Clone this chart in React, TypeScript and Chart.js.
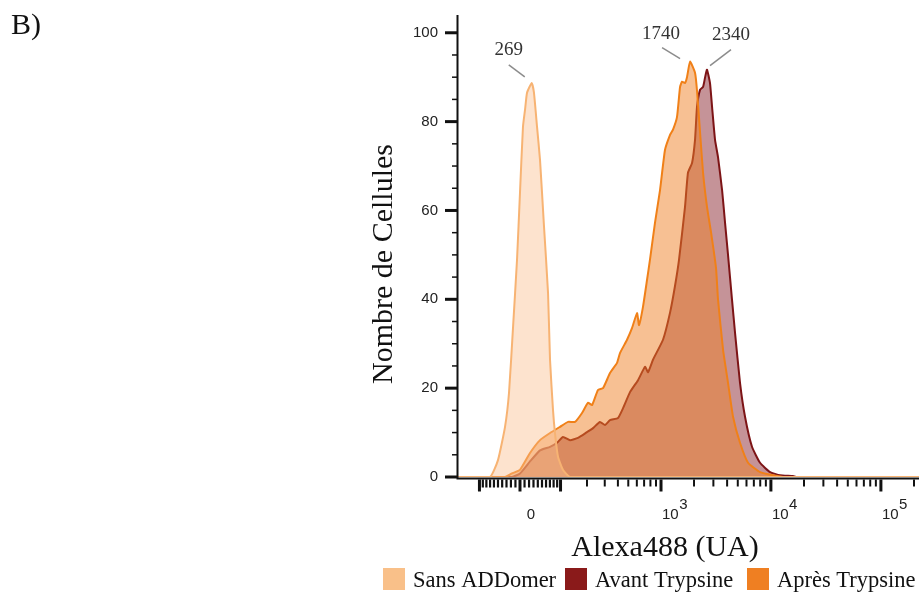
import { useEffect, useRef } from 'react';
import { Chart, registerables } from 'chart.js';

Chart.register(...registerables);

// ---- Data (x in biexponential display units: 10^3 -> 3, 10^4 -> 4, 10^5 -> 5) ----
const seriesNames = ['Sans ADDomer', 'Avant Trypsine', 'Après Trypsine'];

const sansX = [1.155, 1.445, 1.518, 1.582, 1.618, 1.655, 1.691, 1.718, 1.745, 1.764, 1.782, 1.825, 1.845, 1.873, 1.9, 1.936, 1.973, 1.991, 2.018, 2.036, 2.064, 2.109, 2.173, 5.345];
const sansY = [0, 0, 3.8, 11.3, 18.9, 33.8, 48.9, 64, 78.8, 82.7, 86.5, 88.7, 86.5, 78.8, 71.4, 56.5, 41.4, 26.4, 15.1, 9.9, 4.5, 1.6, 0, 0];

const avantX = [1.155, 1.645, 1.718, 1.809, 1.9, 1.991, 2.055, 2.109, 2.173, 2.245, 2.327, 2.382, 2.445, 2.491, 2.536, 2.609, 2.655, 2.718, 2.791, 2.855, 2.882, 2.927, 3.018, 3.082, 3.127, 3.164, 3.218, 3.245, 3.282, 3.309, 3.327, 3.355, 3.382, 3.4, 3.418, 3.445, 3.464, 3.491, 3.518, 3.555, 3.582, 3.609, 3.645, 3.673, 3.718, 3.764, 3.827, 3.9, 3.991, 4.082, 4.2, 4.227, 5.345];
const avantY = [0, 0, 0.8, 3.5, 6, 6.8, 7.7, 9, 8.3, 8.8, 10.1, 11, 12.4, 11.7, 12.8, 13.3, 15.5, 19.1, 21.8, 24.8, 23.6, 26.4, 30.9, 37, 43, 49, 60.8, 68.5, 70.7, 75.9, 83.3, 87.2, 87.8, 89.9, 91.7, 88.7, 83.3, 75.9, 72, 64.6, 57.2, 50, 40, 32.4, 21.2, 13.5, 6.8, 3.2, 1.1, 0.4, 0.2, 0, 0];

const apresX = [1.155, 1.582, 1.645, 1.718, 1.809, 1.9, 1.991, 2.082, 2.155, 2.218, 2.282, 2.336, 2.373, 2.427, 2.473, 2.536, 2.6, 2.627, 2.691, 2.736, 2.782, 2.8, 2.836, 2.873, 2.9, 2.945, 2.991, 3.036, 3.082, 3.109, 3.145, 3.173, 3.191, 3.218, 3.236, 3.264, 3.309, 3.327, 3.355, 3.382, 3.418, 3.455, 3.5, 3.518, 3.564, 3.609, 3.655, 3.718, 3.791, 3.9, 4.018, 4.127, 5.345];
const apresY = [0, 0, 0.8, 1.6, 5.4, 8.3, 9.9, 11.3, 12.4, 12.4, 14.4, 16.7, 16.2, 19.6, 20, 23.4, 25.7, 27.9, 30.9, 33.5, 36.9, 34.2, 38.3, 44.4, 49, 57.2, 64.6, 73.6, 77, 78.2, 81, 87.8, 89, 88.7, 90, 93.5, 91, 87, 77.5, 68.5, 60.8, 55, 47, 40, 28.6, 21.2, 13.5, 7.7, 3.2, 1.1, 0.4, 0, 0];

const peakLabels = ['269', '2340', '1740'];

// ---- Axis ticks ----
const yMajorTicks = [0, 20, 40, 60, 80, 100];
const yMinorTicks = [5, 10, 15, 25, 30, 35, 45, 50, 55, 65, 70, 75, 85, 90, 95];
const xLabelValues = [0, 1000, 10000, 100000];
const xLabelExponents = ['', '3', '4', '5'];
const xMajorTickValues = [-100, 0, 100, 1000, 10000, 100000];
const xMinorTickValues = [
  -200, -90, -80, -70, -60, -50, -40, -30, -20, -10,
  10, 20, 30, 40, 50, 60, 70, 80, 90,
  200, 300, 400, 500, 600, 700, 800, 900,
  2000, 3000, 4000, 5000, 6000, 7000, 8000, 9000,
  20000, 30000, 40000, 50000, 60000, 70000, 80000, 90000,
  200000,
];

const BIEX_ZERO = 1.718;
const BIEX_WIDTH = 104.8;
const biex = (v: number) => BIEX_ZERO + Math.asinh(v / BIEX_WIDTH) / Math.LN10;

const fillColors = ['rgba(251, 194, 146, 0.45)', 'rgba(140, 40, 50, 0.5)', 'rgba(240, 130, 40, 0.5)'];
const lineColors = ['#f7b373', '#7d1416', '#f08018'];
const legendColors = ['#f9c089', '#8a1a1a', '#ef7f22'];

const SERIF = '"Liberation Serif", "Times New Roman", serif';
const SANS = '"Liberation Sans", Arial, sans-serif';

// annotation offsets relative to peak (text centre, leader start, leader end)
const annotLayout = [
  { ds: 0, text: [-23, -28], l0: [-23, -18], l1: [-7, -6] },
  { ds: 1, text: [24, -30], l0: [24, -20], l1: [3, -4] },
  { ds: 2, text: [-29, -23], l0: [-28, -14], l1: [-10, -3] },
];
const legendItemLeft = [383, 565, 747];

const decorPlugin = {
  id: 'decor',
  beforeDraw(chart: any) {
    const { ctx, width, height } = chart;
    ctx.save();
    ctx.fillStyle = '#ffffff';
    ctx.fillRect(0, 0, width, height);
    ctx.restore();
  },
  afterDatasetsDraw(chart: any) {
    const { ctx, chartArea: ca, scales } = chart;
    const xs = scales.x;
    const ys = scales.y;
    ctx.save();

    // axis lines
    ctx.strokeStyle = '#111';
    ctx.lineWidth = 2;
    ctx.beginPath();
    ctx.moveTo(ca.left - 0.5, ca.top);
    ctx.lineTo(ca.left - 0.5, ca.bottom + 2.5);
    ctx.moveTo(ca.left - 1.5, ca.bottom + 1.5);
    ctx.lineTo(ca.right, ca.bottom + 1.5);
    ctx.stroke();

    // y ticks
    yMajorTicks.forEach((v) => {
      const py = ys.getPixelForValue(v);
      ctx.lineWidth = 3;
      ctx.beginPath();
      ctx.moveTo(ca.left - 13, py);
      ctx.lineTo(ca.left - 1, py);
      ctx.stroke();
      ctx.fillStyle = '#222';
      ctx.font = '15px ' + SANS;
      ctx.textAlign = 'right';
      ctx.textBaseline = 'middle';
      ctx.fillText(String(v), ca.left - 20, py);
    });
    yMinorTicks.forEach((v) => {
      const py = ys.getPixelForValue(v);
      ctx.lineWidth = 1.5;
      ctx.beginPath();
      ctx.moveTo(ca.left - 6, py);
      ctx.lineTo(ca.left - 1, py);
      ctx.stroke();
    });

    // x ticks
    const tickTop = ca.bottom + 2.5;
    xMajorTickValues.forEach((v) => {
      const px = xs.getPixelForValue(biex(v));
      ctx.lineWidth = 3;
      ctx.beginPath();
      ctx.moveTo(px, tickTop);
      ctx.lineTo(px, tickTop + 12);
      ctx.stroke();
    });
    xMinorTickValues.forEach((v) => {
      const px = xs.getPixelForValue(biex(v));
      if (px < ca.left || px > ca.right) return;
      ctx.lineWidth = Math.abs(v) < 100 ? 2.2 : 2;
      ctx.beginPath();
      ctx.moveTo(px, tickTop);
      ctx.lineTo(px, tickTop + (Math.abs(v) < 100 ? 8 : 7));
      ctx.stroke();
    });

    // x labels
    ctx.fillStyle = '#222';
    ctx.textBaseline = 'alphabetic';
    xLabelValues.forEach((v, i) => {
      const px = xs.getPixelForValue(biex(v));
      const base = ca.bottom + 42;
      if (!xLabelExponents[i]) {
        ctx.font = '15px ' + SANS;
        ctx.textAlign = 'center';
        ctx.fillText(String(v), px + 11, base);
      } else {
        ctx.font = '15px ' + SANS;
        ctx.textAlign = 'left';
        ctx.fillText('10', px + 1, base);
        const w = ctx.measureText('10').width;
        ctx.font = '15px ' + SANS;
        ctx.fillText(xLabelExponents[i], px + 1 + w + 0.5, base - 10);
      }
    });

    // axis titles
    ctx.fillStyle = '#111';
    ctx.font = '30px ' + SERIF;
    ctx.textAlign = 'center';
    ctx.fillText('Alexa488 (UA)', 665, 556);
    ctx.save();
    ctx.translate(392, 264);
    ctx.rotate(-Math.PI / 2);
    ctx.fillText('Nombre de Cellules', 0, 0);
    ctx.restore();

    // panel label
    ctx.textAlign = 'left';
    ctx.font = '30px ' + SERIF;
    ctx.fillText('B)', 11, 34);

    // peak annotations
    annotLayout.forEach((a, i) => {
      const meta = chart.getDatasetMeta(a.ds);
      const data = chart.data.datasets[a.ds].data as any[];
      let best = 0;
      data.forEach((d, j) => { if (d.y > data[best].y) best = j; });
      const pt = meta.data[best];
      ctx.strokeStyle = '#8c8c8c';
      ctx.lineWidth = 1.5;
      ctx.beginPath();
      ctx.moveTo(pt.x + a.l0[0], pt.y + a.l0[1]);
      ctx.lineTo(pt.x + a.l1[0], pt.y + a.l1[1]);
      ctx.stroke();
      ctx.fillStyle = '#333';
      ctx.font = '19px ' + SERIF;
      ctx.textAlign = 'center';
      ctx.fillText(peakLabels[i], pt.x + a.text[0], pt.y + a.text[1]);
    });

    // legend
    ctx.font = '22.5px ' + SERIF;
    ctx.textAlign = 'left';
    seriesNames.forEach((name, i) => {
      const lx = legendItemLeft[i];
      ctx.fillStyle = legendColors[i];
      ctx.fillRect(lx, 568, 22, 22);
      ctx.fillStyle = '#111';
      ctx.fillText(name, lx + 30, 587);
    });

    ctx.restore();
  },
};

export default function App() {
  const ref = useRef<HTMLCanvasElement>(null);
  useEffect(() => {
    if (!ref.current) return;
    const xsArr = [sansX, avantX, apresX];
    const ysArr = [sansY, avantY, apresY];
    const orders = [0, 2, 1];
    const chart = new Chart(ref.current, {
      type: 'line',
      data: {
        datasets: seriesNames.map((name, i) => ({
          label: name,
          data: xsArr[i].map((x, j) => ({ x, y: ysArr[i][j] })),
          borderColor: lineColors[i],
          backgroundColor: fillColors[i],
          borderWidth: 2,
          fill: 'origin',
          pointRadius: 0,
          tension: 0.15,
          order: orders[i],
        })),
      },
      options: {
        responsive: false,
        animation: false,
        devicePixelRatio: 1,
        layout: { padding: { left: 458, right: 0, top: 15, bottom: 118 } },
        plugins: { legend: { display: false }, tooltip: { enabled: false } },
        scales: {
          x: { type: 'linear', min: 1.1545, max: 5.345, display: false },
          y: { type: 'linear', min: 0, max: 104, display: false },
        },
      },
      plugins: [decorPlugin],
    });
    return () => chart.destroy();
  }, []);
  return (
    <div style={{ position: 'absolute', left: 0, top: 0, width: 919, height: 595 }}>
      <canvas ref={ref} width={919} height={595} />
    </div>
  );
}
